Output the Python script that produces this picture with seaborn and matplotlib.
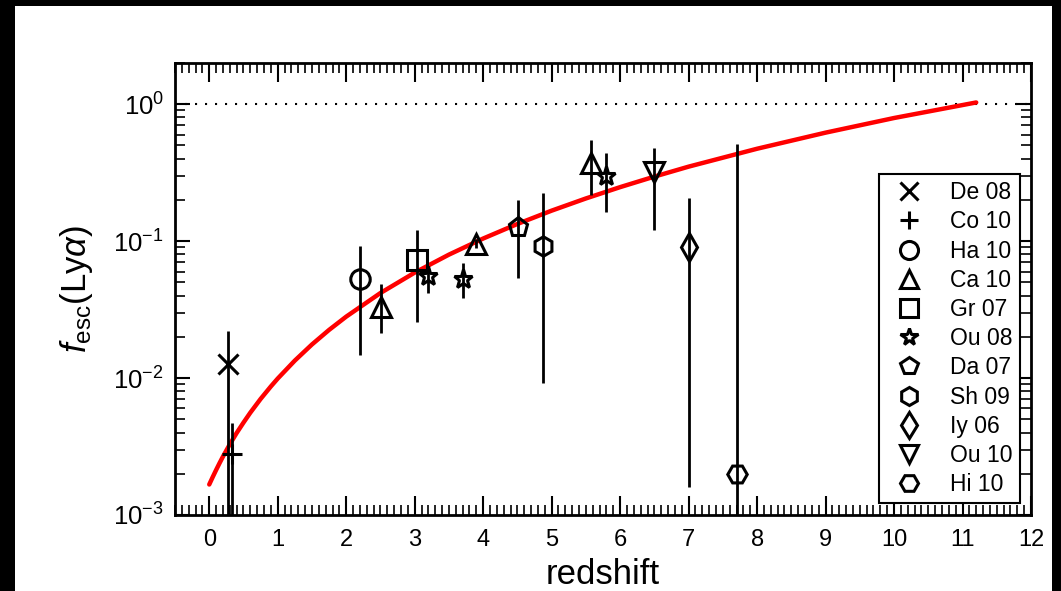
import numpy as np
import pandas as pd
import matplotlib
matplotlib.use("Agg")
import matplotlib.pyplot as plt
from matplotlib.lines import Line2D
from matplotlib.patches import Rectangle
from matplotlib.ticker import MultipleLocator, LogLocator, NullFormatter
import seaborn as sns

# ---- data ----
labels  = ["De 08", "Co 10", "Ha 10", "Ca 10", "Gr 07", "Ou 08", "Da 07", "Sh 09", "Iy 06", "Ou 10", "Hi 10"]
markers = ["x", "+", "o", "^", "s", "*", "p", "h", "d", "v", "H"]

# points: label, redshift, f_esc, upper bound, lower bound
pt_label = ["De 08", "Co 10", "Ha 10", "Ca 10", "Gr 07", "Ou 08", "Ou 08", "Ca 10", "Da 07", "Sh 09", "Ca 10", "Ou 08", "Ou 10", "Iy 06", "Hi 10"]
pt_z     = [0.28, 0.33, 2.20, 2.51, 3.03, 3.19, 3.70, 3.90, 4.51, 4.87, 5.58, 5.79, 6.50, 7.01, 7.70]
pt_f     = [0.0126, 0.0028, 0.053, 0.033, 0.073, 0.056, 0.053, 0.096, 0.127, 0.092, 0.37, 0.30, 0.32, 0.090, 0.0020]
pt_hi    = [0.022, 0.0047, 0.092, 0.049, 0.120, 0.063, 0.069, 0.104, 0.199, 0.223, 0.55, 0.44, 0.475, 0.205, 0.51]
pt_lo    = [1e-5, 1e-5, 0.0147, 0.0212, 0.0258, 0.0415, 0.0382, 0.089, 0.054, 0.0092, 0.217, 0.164, 0.120, 0.0016, 1e-5]

# fitted curve
curve_z = [0.0, 0.05, 0.1, 0.15, 0.2, 0.25, 0.3, 0.35, 0.4, 0.5, 0.6, 0.75, 0.9, 1.0, 1.25, 1.5,
           1.75, 2.0, 2.5, 3.0, 3.5, 4.0, 4.5, 5.0, 5.5, 6.0, 6.5, 7.0, 8.0, 9.0, 10.0, 11.2]
curve_f = [0.00167, 0.00189, 0.00213, 0.00239, 0.00267, 0.00296, 0.00328, 0.00361, 0.00397,
           0.00473, 0.00559, 0.00704, 0.00869, 0.00992, 0.01342, 0.0176, 0.02248, 0.0281,
           0.0418, 0.0589, 0.0797, 0.1045, 0.1335, 0.167, 0.205, 0.248, 0.296, 0.350,
           0.473, 0.620, 0.793, 1.03]

xticks = list(range(0, 13))

# ---- style ----
sns.set_style("ticks")
plt.rcParams["font.family"] = ["Liberation Sans", "DejaVu Sans"]
plt.rcParams["mathtext.fontset"] = "custom"
plt.rcParams["mathtext.rm"] = "Liberation Sans"
plt.rcParams["mathtext.it"] = "Liberation Sans:italic"
plt.rcParams["mathtext.bf"] = "Liberation Sans:bold"
for k in ["text.color", "axes.labelcolor", "xtick.color", "ytick.color", "axes.edgecolor"]:
    plt.rcParams[k] = "black"

fig = plt.figure(figsize=(10.61, 5.91), dpi=100)
fig.patch.set_facecolor("black")
bg = Rectangle((15 / 1061, 0), (1052 - 15) / 1061, 1 - 6 / 591,
               transform=fig.transFigure, facecolor="white",
               edgecolor="none", zorder=-10)
fig.add_artist(bg)
ax = fig.add_axes([175 / 1061, 1 - 515 / 591, (1031 - 175) / 1061, (515 - 63) / 591])
ax.set_zorder(1)
ax.set_facecolor("white")

ax.set_yscale("log")
ax.set_xlim(-0.5, 12)
ax.set_ylim(1e-3, 2.0)

# dotted line at unity
ax.axhline(1.0, color="black", lw=1.5, linestyle=(0, (1, 3.8)), zorder=1)

# fit curve
curve_df = pd.DataFrame({"z": curve_z, "f": curve_f})
sns.lineplot(data=curve_df, x="z", y="f", color="red", lw=3.2, ax=ax, zorder=3, sort=False)

# data points
mk = dict(zip(labels, markers))
for lab, z, f, hi, lo in zip(pt_label, pt_z, pt_f, pt_hi, pt_lo):
    ax.errorbar([z], [f], yerr=[[f - lo], [hi - f]], fmt="none", ecolor="black",
                elinewidth=2, capsize=0, zorder=4)
    ax.plot([z], [f], linestyle="none", marker=mk[lab], markersize=14,
            markerfacecolor="none", markeredgecolor="black", markeredgewidth=2.2, zorder=5)

# ticks
ax.set_xticks(xticks)
ax.xaxis.set_minor_locator(MultipleLocator(0.1))
ax.yaxis.set_major_locator(LogLocator(base=10, numticks=10))
ax.yaxis.set_minor_locator(LogLocator(base=10, subs=np.arange(2, 10), numticks=20))
ax.yaxis.set_minor_formatter(NullFormatter())
ax.tick_params(axis="both", which="both", direction="in", top=True, right=True,
               color="black", labelcolor="black")
ax.tick_params(axis="x", which="major", length=14, width=1.5, pad=10, labelsize=17)
ax.tick_params(axis="x", which="minor", length=7, width=1.2)
ax.tick_params(axis="y", which="major", length=11, width=1.5, pad=8, labelsize=18.5)
ax.tick_params(axis="y", which="minor", length=7, width=1.2)
for s in ax.spines.values():
    s.set_linewidth(2)
    s.set_color("black")

ax.set_xlabel("redshift", fontsize=25, labelpad=5)
ax.set_ylabel(r"$f_{\rm esc}$(Ly$\alpha$)", fontsize=25)
ax.yaxis.set_label_coords(-0.094, 0.5)

# legend
handles = [Line2D([], [], linestyle="none", marker=m, markersize=13,
                  markerfacecolor="none", markeredgecolor="black", markeredgewidth=2.2)
           for m in markers]
leg = ax.legend(handles, labels, loc="lower right", bbox_to_anchor=(0.987, 0.0265),
                borderaxespad=0, fontsize=16.5, frameon=True, fancybox=False,
                edgecolor="black", framealpha=1, handlelength=2.0, handletextpad=0.8,
                labelspacing=0.27, borderpad=0.3)
leg.get_frame().set_linewidth(1.5)

fig.savefig("out.png", dpi=100, facecolor=fig.get_facecolor())
